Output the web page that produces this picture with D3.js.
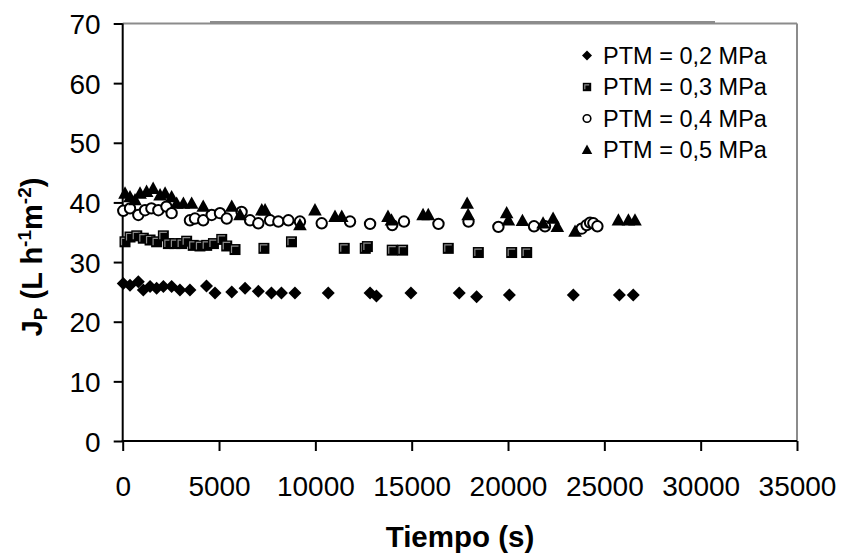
<!DOCTYPE html>
<html><head><meta charset="utf-8">
<script src="https://cdn.jsdelivr.net/npm/d3@7"></script>
<style>
body{margin:0;background:#fff;}
svg{display:block;font-family:"Liberation Sans",Arial,sans-serif;}
</style></head>
<body><svg id="c" width="841" height="554"></svg>
<script>
// ---- data ----
const seriesNames = ["PTM = 0,2 MPa","PTM = 0,3 MPa","PTM = 0,4 MPa","PTM = 0,5 MPa"];
const xTicks = [0,5000,10000,15000,20000,25000,30000,35000];
const yTicks = [0,10,20,30,40,50,60,70];

const t02 = [30,380,810,1070,1420,1760,2110,2540,2970,3490,4350,4790,5660,6350,7040,7720,8240,8940,10670,12840,13170,14960,17470,18370,20070,23390,25780,26500];
const v02 = [26.4,26.1,26.7,25.3,25.9,25.6,25.9,25.9,25.3,25.3,26.0,24.8,25.0,25.6,25.1,24.8,24.8,24.8,24.8,24.8,24.3,24.8,24.8,24.2,24.5,24.5,24.5,24.5];

const t03 = [120,380,730,1070,1420,1760,2110,2370,2710,3060,3320,3660,4010,4360,4710,5140,5400,5830,7330,8760,11500,12590,12700,13990,14530,16900,18460,20190,20970];
const v03 = [33.4,34.2,34.4,34.0,33.7,33.4,34.4,33.1,33.1,33.1,33.5,32.8,32.7,32.8,33.1,33.8,32.7,32.1,32.3,33.4,32.3,32.3,32.6,32.0,32.0,32.3,31.6,31.6,31.6];

const t04 = [30,380,810,1160,1490,1850,2270,2540,3490,3750,4180,4620,5050,5400,6170,6610,7040,7650,8080,8600,9200,10330,11800,12840,13990,14600,16390,17950,19500,21350,21920,23820,24080,24260,24430,24640];
const v04 = [38.6,39.0,37.9,38.7,39.0,38.7,39.3,38.2,37.0,37.3,37.0,37.9,38.2,37.3,38.4,37.0,36.5,37.0,36.8,37.0,36.8,36.5,36.8,36.4,36.2,36.8,36.4,36.8,35.9,36.0,36.0,35.6,36.2,36.6,36.5,36.0];

const t05 = [120,380,640,900,1240,1580,1940,2200,2540,2800,3150,3580,4180,5660,6090,7220,7390,9200,9980,11020,11370,13770,13950,15590,15860,17880,17930,19930,20020,20750,21820,22340,22560,23480,25730,26250,26590];
const v05 = [41.5,40.9,40.4,41.5,41.8,42.3,41.2,41.5,40.9,39.8,39.8,39.8,39.3,39.3,37.9,38.7,38.7,36.2,38.7,37.6,37.6,37.6,37.0,37.9,37.9,39.8,37.9,38.2,37.0,36.9,36.5,37.3,35.9,35.1,37.0,37.0,37.0];

// ---- layout ----
const svg = d3.select("#c");
const x = d3.scaleLinear().domain([0,35000]).range([122.7,797]);
const y = d3.scaleLinear().domain([0,70]).range([441,23.5]);

// plot frame (grey top & right)
svg.append("line").attr("x1",x(0)).attr("x2",x(35000)).attr("y1",y(70)).attr("y2",y(70))
  .attr("stroke","#8c8c8c").attr("stroke-width",2);
svg.append("line").attr("x1",x(35000)).attr("x2",x(35000)).attr("y1",y(70)).attr("y2",y(0))
  .attr("stroke","#8c8c8c").attr("stroke-width",2);
svg.append("line").attr("x1",210).attr("x2",715).attr("y1",22).attr("y2",22)
  .attr("stroke","#8c8c8c").attr("stroke-width",2);

// axes
const gx = svg.append("g").attr("transform",`translate(0,${y(0)})`)
  .call(d3.axisBottom(x).tickValues(xTicks).tickSize(10).tickSizeOuter(0).tickFormat(d3.format("d")));
const gy = svg.append("g").attr("transform",`translate(${x(0)},0)`)
  .call(d3.axisLeft(y).tickValues(yTicks).tickSize(9).tickSizeOuter(0));
[gx,gy].forEach(g=>{
  g.select(".domain").attr("stroke","#000").attr("stroke-width",2);
  g.selectAll(".tick line").attr("stroke","#000").attr("stroke-width",2);
  g.selectAll(".tick text").attr("fill","#000").style("font-size","28px")
    .style("font-family",'"Liberation Sans",Arial,sans-serif');
});
gx.selectAll(".tick text").attr("y",55).attr("dy",0);
gy.selectAll(".tick text").attr("x",-22).attr("dy","0.36em");
gy.select(".domain").attr("d",`M0,${y(70)}V${y(0)+1}`);
gx.select(".domain").attr("d",`M${x(0)-1},0H${x(35000)}`);

// markers
const sym = {
  diamond: (g,s)=> g.append("path").attr("d",`M0,${-s}L${s},0L0,${s}L${-s},0Z`).attr("fill","#000"),
  square: (g,s)=> { g.append("rect").attr("x",-s).attr("y",-s).attr("width",2*s).attr("height",2*s).attr("fill","#000");
                    g.append("path").attr("d",`M${-s+2},${s-2}V${-s+2}H${s-2}`).attr("fill","none").attr("stroke","#8a8a8a").attr("stroke-width",1.2); },
  circle: (g,s)=> g.append("circle").attr("r",s).attr("fill","#fff").attr("stroke","#000").attr("stroke-width",2),
  triangle: (g,s)=> g.append("path").attr("d",`M0,${-s*1.1}L${s*1.05},${s*0.8}L${-s*1.05},${s*0.8}Z`).attr("fill","#000")
};
const series = [
  {t:t02,v:v02,m:"diamond",s:6.5},
  {t:t03,v:v03,m:"square",s:5.5},
  {t:t04,v:v04,m:"circle",s:5.2},
  {t:t05,v:v05,m:"triangle",s:6.5}
];
series.forEach(se=>{
  se.t.forEach((tv,i)=>{
    const g = svg.append("g").attr("transform",`translate(${x(tv)},${y(se.v[i])})`);
    sym[se.m](g,se.s);
  });
});

// legend
const legY = [55.5,87,118.5,150];
const legS = [{m:"diamond",s:5},{m:"square",s:4.2},{m:"circle",s:3.8},{m:"triangle",s:5}];
seriesNames.forEach((n,i)=>{
  const g = svg.append("g").attr("transform",`translate(587,${legY[i]})`);
  sym[legS[i].m](g,legS[i].s);
  if(legS[i].m==="circle") g.select("circle").attr("stroke-width",1.6);
  svg.append("text").attr("x",603).attr("y",legY[i]).attr("dy","0.36em")
    .style("font-size","23.5px").attr("fill","#000").text(n);
});

// axis titles
svg.append("text").attr("x",460).attr("y",547).attr("text-anchor","middle")
  .style("font-size","29.5px").style("font-weight","bold").text("Tiempo (s)");

const yt = svg.append("text").attr("transform","translate(42,257) rotate(-90)")
  .attr("text-anchor","middle").style("font-size","29px").style("font-weight","bold");
yt.append("tspan").text("J");
yt.append("tspan").attr("dy",5).style("font-size","19px").text("P");
yt.append("tspan").attr("dy",-5).text(" (L h");
yt.append("tspan").attr("dy",-11).style("font-size","19px").text("-1");
yt.append("tspan").attr("dy",11).text("m");
yt.append("tspan").attr("dy",-11).style("font-size","19px").text("-2");
yt.append("tspan").attr("dy",11).text(")");
</script></body></html>
